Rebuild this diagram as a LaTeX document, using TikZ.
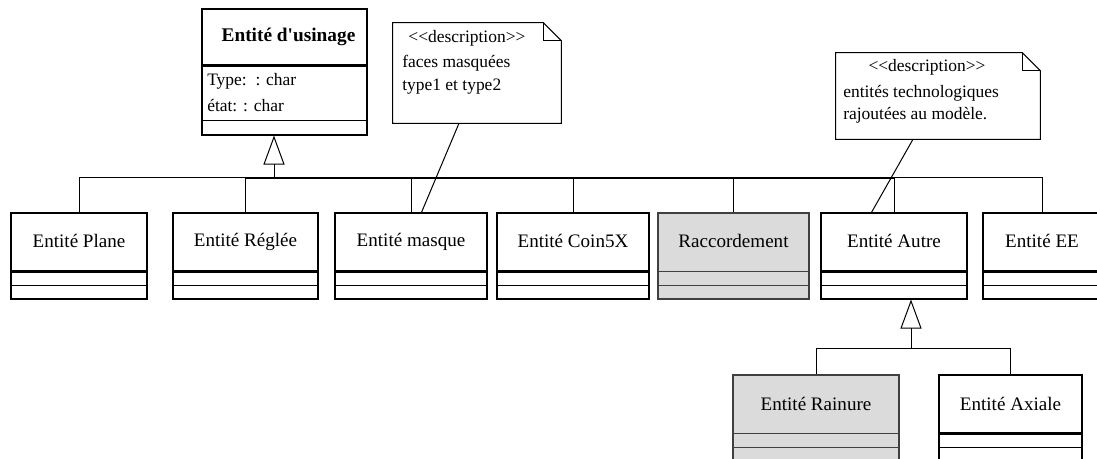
\documentclass[tikz,border=0pt]{standalone}
\usepackage{fontspec}
\setmainfont{Liberation Serif}
\usetikzlibrary{arrows.meta,positioning,calc,fit}
\tikzset{
  classbox/.style={draw=black, line width=0.8pt, fill=white, inner sep=0pt},
  greybox/.style={draw=black!75, line width=0.8pt, fill=black!14, inner sep=0pt},
  classname/.style={font=\fontsize{14.3}{17}\selectfont, inner sep=0pt},
  attrtext/.style={font=\fontsize{13.1}{16}\selectfont, inner sep=0pt, anchor=west},
  notetext/.style={font=\fontsize{13.1}{16}\selectfont, inner sep=0pt},
  septhick/.style={draw=black, line width=1.6pt},
  sepgrey/.style={draw=black!75, line width=0.8pt},
  link/.style={line width=0.75pt},
  bus/.style={line width=1.5pt},
  genarrow/.style={line width=0.75pt, -{Triangle[open, length=21.75pt, width=15.75pt, line width=0.75pt]}},
  notebox/.style={draw=black, line width=0.75pt, fill=white}
}
% style, separator style, name, left, right, top, title
\newcommand{\umlclass}[7]{
  \node[#1, fit={(#4,#6) (#5,#6+86)}] (#3) {};
  \draw[#2] ($(#3.north west)+(0,59)$) -- ($(#3.north east)+(0,59)$);
  \draw[#2, line width=0.8pt] ($(#3.north west)+(0,73)$) -- ($(#3.north east)+(0,73)$);
  \node[classname] (#3-title) at ($(#3.north)+(0,29)$) {#7};
}
% name, left, top, right, bottom
\newcommand{\umlnote}[5]{
  \node[fit={(#2,#3) (#4,#5)}, inner sep=0pt] (#1) {};
  \draw[notebox] (#1.north west) -- ($(#1.north east)+(-18,0)$) -- ($(#1.north east)+(0,18)$)
    -- (#1.south east) -- (#1.south west) -- cycle;
  \draw[link] ($(#1.north east)+(-18,0)$) |- ($(#1.north east)+(0,18)$);
}

\begin{document}
\begin{tikzpicture}[x=0.75pt, y=-0.75pt]
  \useasboundingbox (0,0) rectangle (1097,459);
  \clip (0,0) rectangle (1097,459);

  % parent class
  \node[classbox, fit={(202,9) (367,135)}] (usinage) {};
  \draw[septhick] ($(usinage.north west)+(0,57)$) -- ($(usinage.north east)+(0,57)$);
  \draw[link] ($(usinage.north west)+(0,112)$) -- ($(usinage.north east)+(0,112)$);
  \node[classname, font=\fontsize{14.5}{17}\selectfont\bfseries] (usinage-title)
    at ($(usinage.north)+(4,28)$) {Entité d\textquotesingle usinage};
  \node[attrtext] (type) at (207,81) {Type:\ \ : char};
  \node[attrtext] (etat) at (207,106) {état: : char};

  % subclasses
  \umlclass{classbox}{septhick}{plane}{11}{147}{213}{Entité Plane}
  \umlclass{classbox}{septhick}{reglee}{173}{318}{213}{Entité Réglée}
  \umlclass{classbox}{septhick}{masque}{335}{487}{213}{Entité masque}
  \umlclass{classbox}{septhick}{coin}{497}{649}{213}{Entité Coin5X}
  \umlclass{greybox}{sepgrey}{raccord}{658}{809}{213}{Raccordement}
  \umlclass{classbox}{septhick}{autre}{821}{967}{213}{Entité Autre}
  \umlclass{classbox}{septhick}{ee}{983}{1101}{213}{Entité EE}

  \umlclass{greybox}{sepgrey}{rainure}{733}{899}{375}{Entité Rainure}
  \umlclass{classbox}{septhick}{axiale}{939}{1082}{375}{Entité Axiale}

  % notes
  \umlnote{note1}{393}{23}{561}{123}
  \node[notetext] (note1-title) at (467,38) {{<}{<}description{>}{>}};
  \node[notetext, anchor=west] (note1-a) at (402,63) {faces masquées};
  \node[notetext, anchor=west] (note1-b) at (402,87) {type1 et type2};

  \umlnote{note2}{836}{53}{1040}{139}
  \node[notetext] (note2-title) at (927,67) {{<}{<}description{>}{>}};
  \node[notetext, anchor=west] (note2-a) at (843,93) {entités technologiques};
  \node[notetext, anchor=west] (note2-b) at (843,115) {rajoutées au modèle.};

  % generalisation
  \coordinate (hub) at (274,178);
  \foreach \c in {plane,reglee,masque,coin,raccord,autre,ee}
    \draw[link] (\c.north) |- (hub);
  \draw[bus] (reglee.north |- hub) -- (autre.north |- hub);
  \draw[genarrow] (hub) -- (hub |- usinage.south);

  \coordinate (hub2) at (911,349);
  \foreach \c in {rainure,axiale}
    \draw[link] (\c.north) |- (hub2);
  \draw[genarrow] (hub2) -- (hub2 |- autre.south);

  \draw[link] ($(note1.south)+(-18,0)$) -- ($(masque.north west)+(87,0)$);
  \draw[link] ($(note2.south)+(-25,0)$) -- ($(autre.north west)+(51,0)$);

\end{tikzpicture}
\end{document}
